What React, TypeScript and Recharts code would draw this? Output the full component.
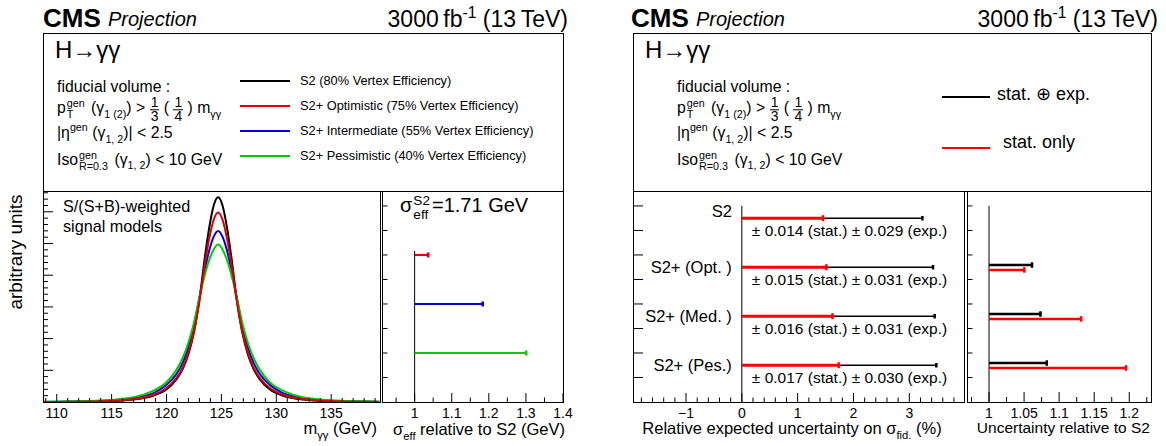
import React from "react";
import { LineChart, Line, XAxis, YAxis, ScatterChart, Scatter } from "recharts";

const FONT = "'Liberation Sans', Arial, Helvetica, sans-serif";

// m_gg grid (GeV) and the S/(S+B)-weighted signal shapes
const MASS = [108.75, 111.9, 113.9, 115.9, 117.9, 118.9, 119.9, 120.9, 121.5, 122.0, 122.5, 123.0, 123.5, 123.9, 124.3, 124.7, 125.1, 125.5, 125.9, 126.4, 126.9, 127.4, 127.9, 128.5, 129.5, 130.5, 131.5, 133.5, 135.5, 137.5, 139.4];
const SHAPE_S2 = [0, 0.001, 0.0025, 0.007, 0.019, 0.033, 0.058, 0.11, 0.165, 0.235, 0.34, 0.5, 0.71, 0.855, 0.96, 1, 0.96, 0.855, 0.71, 0.5, 0.34, 0.235, 0.165, 0.11, 0.058, 0.033, 0.019, 0.007, 0.0025, 0.001, 0];
const SHAPE_OPT = [0, 0.0014, 0.0034, 0.0088, 0.022, 0.037, 0.065, 0.117, 0.172, 0.243, 0.346, 0.494, 0.677, 0.801, 0.891, 0.926, 0.891, 0.801, 0.677, 0.494, 0.346, 0.243, 0.172, 0.117, 0.065, 0.037, 0.022, 0.0088, 0.0034, 0.0014, 0.0003];
const SHAPE_INT = [0.0005, 0.0021, 0.0052, 0.0126, 0.028, 0.046, 0.08, 0.136, 0.195, 0.269, 0.374, 0.509, 0.649, 0.742, 0.808, 0.836, 0.808, 0.742, 0.649, 0.509, 0.374, 0.269, 0.195, 0.136, 0.08, 0.046, 0.028, 0.0126, 0.0052, 0.0021, 0.001];
const SHAPE_PES = [0.001, 0.0036, 0.0077, 0.0149, 0.036, 0.058, 0.092, 0.157, 0.219, 0.291, 0.387, 0.511, 0.623, 0.695, 0.745, 0.769, 0.745, 0.695, 0.623, 0.511, 0.387, 0.291, 0.219, 0.157, 0.092, 0.058, 0.036, 0.0149, 0.0077, 0.0036, 0.0016];

const SCENARIOS = ["S2 (80% Vertex Efficiency)", "S2+ Optimistic (75% Vertex Efficiency)", "S2+ Intermediate (55% Vertex Efficiency)", "S2+ Pessimistic (40% Vertex Efficiency)"];
const SCEN_COLORS = ["#000000", "#dd0000", "#0000dd", "#00cc00"];

// sigma_eff relative to S2
const SIGMA_REL = [1.036, 1.183, 1.3];
const SIGMA_POS = [6, 4, 2];

// fiducial cross section uncertainties
const CATS = ["S2", "S2+ (Opt. )", "S2+ (Med. )", "S2+ (Pes.)"];
const CAT_POS = [7.5, 5.5, 3.5, 1.5];
const LABEL_POS = [7.8, 5.5, 3.5, 1.5];
const UNC_STAT = [1.45, 1.51, 1.62, 1.73];
const UNC_TOTAL = [3.23, 3.42, 3.45, 3.48];
const STAT_TXT = ["0.014", "0.015", "0.016", "0.017"];
const EXP_TXT = ["0.029", "0.031", "0.031", "0.030"];
const REL_TOTAL = [1.061, 1.073, 1.082];
const REL_STAT = [1.05, 1.131, 1.195];

function range(a: number, b: number, step: number) {
  const out: number[] = [];
  for (let v = a; v <= b + step * 1e-3; v += step) out.push(Number(v.toFixed(5)));
  return out;
}
const isMult = (v: number, step: number) => Math.abs(v / step - Math.round(v / step)) < 1e-4;
const fmt = (v: number) => (Math.abs(v) < 1e-9 ? "0" : v < 0 ? "\u2212" + String(Number((-v).toFixed(3))) : String(Number(v.toFixed(3))));

// ROOT-like inward ticks: axes get a 1px box so recharts still draws them
function xTick(step: number, majorLen: number, minorLen: number, minLabel = -1e9) {
  return (props: any) => {
    const { x, y, payload } = props;
    const v = payload.value as number;
    const major = isMult(v, step);
    return (
      <g>
        <line x1={x} x2={x} y1={y} y2={y - (major ? majorLen : minorLen)} stroke="#000" />
        {major && v >= minLabel && (
          <text x={x} y={y + 11} textAnchor="middle" dominantBaseline="central" fontSize={14} fontFamily={FONT} fill="#000">
            {fmt(v)}
          </text>
        )}
      </g>
    );
  };
}

function yTick(step: number, majorLen: number, minorLen: number) {
  return (props: any) => {
    const { x, y, payload } = props;
    const major = isMult(payload.value, step);
    return <line x1={x} x2={x + (major ? majorLen : minorLen)} y1={y} y2={y} stroke="#000" />;
  };
}

function hbar(key: string, x0: number, x1: number, y: number, color: string, w: number) {
  return (
    <Scatter
      key={key}
      data={[{ x: x0, y }, { x: x1, y }]}
      line={{ stroke: color, strokeWidth: w }}
      isAnimationActive={false}
      shape={(p: any) =>
        p.payload.x === x0 ? <g /> : <rect x={p.cx - 1} y={p.cy - w / 2 - 1.5} width={2.5} height={w + 3} fill={color} />
      }
    />
  );
}

function vline(key: string, x: number, y0: number, y1: number) {
  return (
    <Scatter key={key} data={[{ x, y: y0 }, { x, y: y1 }]} line={{ stroke: "#000", strokeWidth: 1 }} isAnimationActive={false} shape={() => <g />} />
  );
}

const Sub = ({ children }: any) => <span style={{ fontSize: "0.68em", verticalAlign: "-0.45em" }}>{children}</span>;
const Sup = ({ children }: any) => <span style={{ fontSize: "0.68em", verticalAlign: "0.6em" }}>{children}</span>;
const Stack = ({ sup, sub }: any) => (
  <span style={{ display: "inline-block", verticalAlign: "-0.5em", fontSize: "0.68em", lineHeight: 1.05, marginLeft: 1, marginRight: 2 }}>
    <span style={{ display: "block" }}>{sup}</span>
    <span style={{ display: "block" }}>{sub}</span>
  </span>
);
const Frac = ({ n, d }: any) => (
  <span style={{ display: "inline-block", verticalAlign: "-0.6em", textAlign: "center", fontSize: "0.88em", lineHeight: 0.95 }}>
    <span style={{ display: "block", borderBottom: "1px solid #000", padding: "0 1px" }}>{n}</span>
    <span style={{ display: "block" }}>{d}</span>
  </span>
);

function Txt({ x, y, size, anchor = "start", children, style }: any) {
  const tx = anchor === "end" ? "-100%" : anchor === "middle" ? "-50%" : "0";
  return (
    <div style={{ position: "absolute", left: x, top: y, transform: `translate(${tx}, -50%)`, fontSize: size, fontFamily: FONT, whiteSpace: "nowrap", lineHeight: 1.1, color: "#000", ...style }}>
      {children}
    </div>
  );
}

const Box = ({ x0, y0, x1, y1 }: any) => (
  <div style={{ position: "absolute", left: x0, top: y0, width: x1 - x0 + 1, height: y1 - y0 + 1, border: "1px solid #000", boxSizing: "border-box", pointerEvents: "none" }} />
);
const Seg = ({ x0, x1, y, color, w = 2 }: any) => (
  <div style={{ position: "absolute", left: x0, top: y - w / 2, width: x1 - x0, height: w, background: color }} />
);

function Header({ x0, x1 }: { x0: number; x1: number }) {
  return (
    <>
      <Txt x={x0} y={18} size={26} style={{ fontWeight: "bold" }}>CMS</Txt>
      <Txt x={x0 + 65} y={19} size={20} style={{ fontStyle: "italic" }}>Projection</Txt>
      <Txt x={x1 + 5} y={18} size={23} anchor="end">
        3000{"\u2009"}fb<Sup>-1</Sup> (13{"\u2009"}TeV)
      </Txt>
    </>
  );
}

function Fiducial({ x }: { x: number }) {
  return (
    <>
      <Txt x={x} y={87} size={15.8}>fiducial volume :</Txt>
      <Txt x={x} y={110} size={15.8}>
        p<Stack sup="gen" sub="T" /> (γ<Sub>1 (2)</Sub>) &gt; <Frac n="1" d="3" /> ( <Frac n="1" d="4" /> ) m<Sub>γγ</Sub>
      </Txt>
      <Txt x={x} y={134} size={15.8}>
        |η<Sup>gen</Sup> (γ<Sub>1, 2</Sub>)| &lt; 2.5
      </Txt>
      <Txt x={x} y={161} size={15.8}>
        Iso<Stack sup="gen" sub="R=0.3" /> (γ<Sub>1, 2</Sub>) &lt; 10 GeV
      </Txt>
    </>
  );
}

const curveData = MASS.map((m, i) => ({ m, s2: SHAPE_S2[i], opt: SHAPE_OPT[i], int: SHAPE_INT[i], pes: SHAPE_PES[i] }));
const CURVE_KEYS = ["s2", "opt", "int", "pes"];
const DRAW_ORDER = [0, 2, 3, 1];
const Y_UNIT = 0.15486;
const massTicks = range(109, 139, 1);
const massYTicks = range(Y_UNIT / 5, 1.03, Y_UNIT / 5);

const axisCommon = { interval: 0 as const, tickSize: 0, tickMargin: 0, axisLine: false, tickLine: false, allowDataOverflow: true };

function MassPlot() {
  return (
    <div style={{ position: "absolute", left: 0, top: 185 }}>
      <LineChart width={385} height={261} data={curveData} margin={{ top: 6, right: 5.5, bottom: 43, left: 42 }}>
        <XAxis type="number" dataKey="m" domain={[108.75, 139.4]} ticks={massTicks} height={1} tick={xTick(5, 8, 4)} {...axisCommon} />
        <YAxis type="number" domain={[0, 1.0308]} ticks={massYTicks} width={1} tick={yTick(Y_UNIT, 10, 5)} {...axisCommon} />
        {DRAW_ORDER.map((i) => (
          <Line key={CURVE_KEYS[i]} type="monotone" dataKey={CURVE_KEYS[i]} stroke={SCEN_COLORS[i]} strokeWidth={2} dot={false} isAnimationActive={false} />
        ))}
      </LineChart>
    </div>
  );
}

const BAR_Y_TICKS = [1, 2, 3, 4, 5, 6, 7, 8];
const Y_MAX = 8.61;

function SigmaPlot() {
  return (
    <div style={{ position: "absolute", left: 380, top: 185 }}>
      <ScatterChart width={200} height={261} margin={{ top: 6, right: 17, bottom: 43, left: 1 }}>
        <XAxis type="number" dataKey="x" domain={[0.912, 1.4]} ticks={range(0.95, 1.4, 0.05)} height={1} tick={xTick(0.1, 9, 4.5, 1)} {...axisCommon} />
        <YAxis type="number" dataKey="y" domain={[0, Y_MAX]} ticks={BAR_Y_TICKS} width={1} tick={yTick(1, 5.5, 5.5)} {...axisCommon} />
        {vline("zero", 1, 0, 6.16)}
        {SIGMA_REL.map((v, i) => hbar("s" + i, 1, v, SIGMA_POS[i], SCEN_COLORS[i + 1], 2))}
      </ScatterChart>
    </div>
  );
}

const catRows = CATS.map((c, i) => ({ x: 0, y: LABEL_POS[i], name: c }));
const statRows = CATS.map((c, i) => ({ x: 0, y: CAT_POS[i], txt: `\u00b1 ${STAT_TXT[i]} (stat.) \u00b1 ${EXP_TXT[i]} (exp.)` }));

function UncPlot() {
  return (
    <div style={{ position: "absolute", left: 600, top: 185 }}>
      <ScatterChart width={370} height={261} margin={{ top: 6, right: 6, bottom: 43, left: 32 }}>
        <XAxis type="number" dataKey="x" domain={[-1.95, 3.98]} ticks={range(-1.8, 3.8, 0.2)} height={1} tick={xTick(1, 9, 4.5)} {...axisCommon} />
        <YAxis type="number" dataKey="y" domain={[0, Y_MAX]} ticks={BAR_Y_TICKS} width={1} tick={yTick(1, 10, 10)} {...axisCommon} />
        {vline("zero", 0, 0, 8)}
        {UNC_TOTAL.map((v, i) => hbar("t" + i, 0, v, CAT_POS[i], "#000", 1.5))}
        {UNC_STAT.map((v, i) => hbar("st" + i, 0, v, CAT_POS[i], "#ff0000", 3))}
        <Scatter
          data={catRows}
          isAnimationActive={false}
          shape={(p: any) => (
            <text x={p.cx - 10} y={p.cy} textAnchor="end" dominantBaseline="central" fontSize={16.5} fontFamily={FONT} fill="#000">
              {p.payload.name}
            </text>
          )}
        />
        <Scatter
          data={statRows}
          isAnimationActive={false}
          shape={(p: any) => (
            <text x={p.cx + 10} y={p.cy + 12} dominantBaseline="central" fontSize={15.5} fontFamily={FONT} fill="#000">
              {p.payload.txt}
            </text>
          )}
        />
      </ScatterChart>
    </div>
  );
}

function RelPlot() {
  return (
    <div style={{ position: "absolute", left: 960, top: 185 }}>
      <ScatterChart width={206} height={261} margin={{ top: 6, right: 15, bottom: 43, left: 6 }}>
        <XAxis type="number" dataKey="x" domain={[0.9686, 1.231]} ticks={range(0.975, 1.225, 0.025)} height={1} tick={xTick(0.05, 10, 5)} {...axisCommon} />
        <YAxis type="number" dataKey="y" domain={[0, Y_MAX]} ticks={BAR_Y_TICKS} width={1} tick={yTick(1, 5.5, 5.5)} {...axisCommon} />
        {vline("zero", 1, 0, 8)}
        {REL_TOTAL.map((v, i) => hbar("rt" + i, 1, v, CAT_POS[i + 1] + 0.09, "#000", 2.5))}
        {REL_STAT.map((v, i) => hbar("rs" + i, 1, v, CAT_POS[i + 1] - 0.11, "#ff0000", 2.5))}
      </ScatterChart>
    </div>
  );
}

export default function App() {
  return (
    <div style={{ position: "absolute", left: 0, top: 0, width: 1166, height: 446, background: "#fff", overflow: "hidden", fontFamily: FONT }}>
      {/* left panel */}
      <Header x0={43} x1={563} />
      <Box x0={43} y0={33} x1={563} y1={191} />
      <Txt x={55} y={50} size={24}>H→γγ</Txt>
      <Fiducial x={57} />
      {SCENARIOS.map((s, i) => (
        <React.Fragment key={s}>
          <Seg x0={240} x1={290} y={81 + i * 25} color={SCEN_COLORS[i]} />
          <Txt x={300} y={81 + i * 25} size={12.8}>{s}</Txt>
        </React.Fragment>
      ))}
      <MassPlot />
      <SigmaPlot />
      <Box x0={43} y0={191} x1={379.5} y1={402} />
      <Box x0={382} y0={191} x1={563} y1={402} />
      <Txt x={63} y={207} size={16.2}>S/(S+B)-weighted</Txt>
      <Txt x={63} y={227} size={16.2}>signal models</Txt>
      <Txt x={400} y={208} size={20}>
        σ<Stack sup="S2" sub="eff" />=1.71 GeV
      </Txt>
      <Txt x={16} y={252} size={19} anchor="middle" style={{ transform: "translate(-50%, -50%) rotate(-90deg)" }}>arbitrary units</Txt>
      <Txt x={377} y={430} size={16.5} anchor="end">m<Sub>γγ</Sub> (GeV)</Txt>
      <Txt x={565} y={431} size={16.5} anchor="end">σ<Sub>eff</Sub> relative to S2 (GeV)</Txt>

      {/* right panel */}
      <Header x0={631} x1={1153} />
      <Box x0={633} y0={33} x1={1151} y1={191} />
      <Txt x={645} y={50} size={24}>H→γγ</Txt>
      <Fiducial x={677} />
      <Seg x0={942} x1={990} y={97} color="#000" />
      <Txt x={997} y={95} size={18}>stat. ⊕ exp.</Txt>
      <Seg x0={942} x1={990} y={148} color="#ff0000" />
      <Txt x={1003} y={143} size={18}>stat. only</Txt>
      <UncPlot />
      <RelPlot />
      <Box x0={633} y0={191} x1={964} y1={402} />
      <Box x0={967} y0={191} x1={1151} y1={402} />
      <Txt x={792} y={430} size={16.5} anchor="middle">Relative expected uncertainty on σ<Sub>fid.</Sub> (%)</Txt>
      <Txt x={1150} y={428} size={15.5} anchor="end">Uncertainty relative to S2</Txt>
    </div>
  );
}
